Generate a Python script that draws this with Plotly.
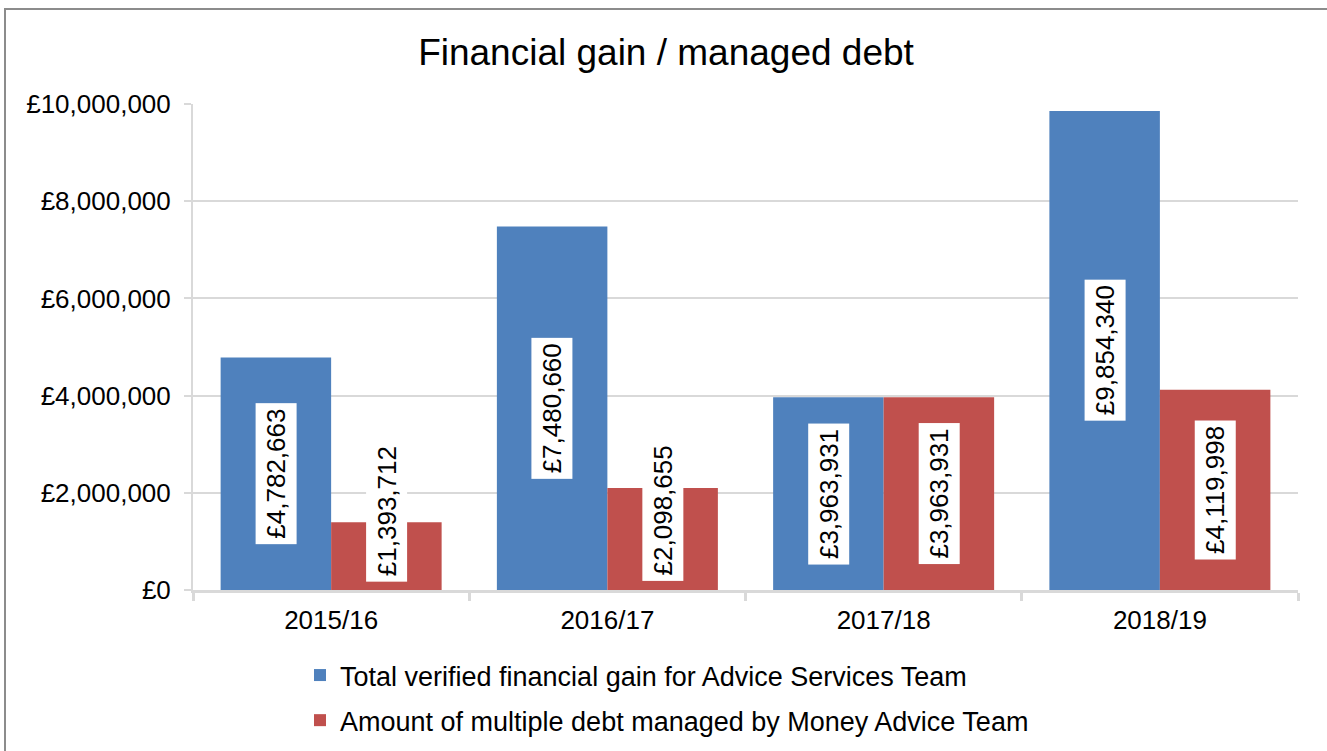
import plotly.graph_objects as go

categories = ["2015/16", "2016/17", "2017/18", "2018/19"]
gain_name = "Total verified financial gain for Advice Services Team"
gain_values = [4782663, 7480660, 3963931, 9854340]
debt_name = "Amount of multiple debt managed by Money Advice Team"
debt_values = [1393712, 2098655, 3963931, 4119998]
y_ticks = [0, 2000000, 4000000, 6000000, 8000000, 10000000]
y_tick_labels = ["£0", "£2,000,000", "£4,000,000", "£6,000,000", "£8,000,000", "£10,000,000"]

BLUE = "#4F81BD"
RED = "#C0504D"
GRID = "#D9D9D9"
FONT = "Liberation Sans, Arial, sans-serif"

W, H = 1327, 751
L, T = 193, 104
R = W - 1298
B = H - 590
pw, ph = W - L - R, H - T - B
y0px = H - B  # pixel y of value 0

fig = go.Figure()
fig.add_trace(go.Bar(x=categories, y=gain_values, name=gain_name, legendgroup="g",
                     marker=dict(color=BLUE, line=dict(width=0))))
fig.add_trace(go.Bar(x=categories, y=debt_values, name=debt_name, legendgroup="d",
                     marker=dict(color=RED, line=dict(width=0))))

# data labels with white boxes, rotated, centered in bar (kept inside if too short)
min_center = 1.63e6
anns = []
for series, off in ((gain_values, -0.2), (debt_values, 0.2)):
    for i, v in enumerate(series):
        anns.append(dict(
            x=i + off, y=max(v / 2, min_center), xref="x", yref="y",
            text=f"£{v:,}", textangle=-90, showarrow=False,
            bgcolor="white", borderpad=5,
            font=dict(family=FONT, size=26, color="black"),
        ))

fig.update_layout(
    width=W, height=H,
    margin=dict(l=L, r=R, t=T, b=B, autoexpand=False),
    paper_bgcolor="white", plot_bgcolor="white",
    barmode="group", bargap=0.2, bargroupgap=0,
    font=dict(family=FONT, size=26, color="black"),
    title=dict(text="Financial gain / managed debt", x=666 / W, xanchor="center",
               xref="container", y=1 - 52 / H, yref="container", yanchor="middle",
               font=dict(family=FONT, size=37, color="black")),
    xaxis=dict(showline=True, linecolor=GRID, linewidth=3,
               ticks="outside", tickson="boundaries", ticklen=8,
               tickcolor=GRID, tickwidth=3, showgrid=False,
               ticklabelstandoff=5,
               tickfont=dict(size=26, color="black")),
    yaxis=dict(range=[0, 10000000], tickvals=y_ticks, ticktext=y_tick_labels,
               showgrid=True, gridcolor=GRID, gridwidth=2,
               showline=True, linecolor=GRID, linewidth=2,
               ticks="outside", ticklen=7, tickcolor=GRID, tickwidth=2,
               zeroline=False, ticklabelstandoff=8,
               tickfont=dict(size=26, color="black")),
    legend=dict(orientation="v", x=(300 - L) / pw, xanchor="left",
                y=-(651 - y0px) / ph, yanchor="top",
                bgcolor="rgba(0,0,0,0)", font=dict(size=27, color="black"),
                tracegroupgap=7),
    annotations=anns,
    shapes=[dict(type="rect", xref="paper", yref="paper",
                 x0=(5 - L) / pw, x1=(1345 - L) / pw,
                 y0=-(770 - y0px) / ph, y1=(y0px - 9) / ph,
                 line=dict(color="#8C8C8C", width=2), fillcolor="rgba(0,0,0,0)",
                 layer="below")],
)

fig.write_html("out.html", config={"displayModeBar": False},
               post_script="document.body.style.margin='0';")
